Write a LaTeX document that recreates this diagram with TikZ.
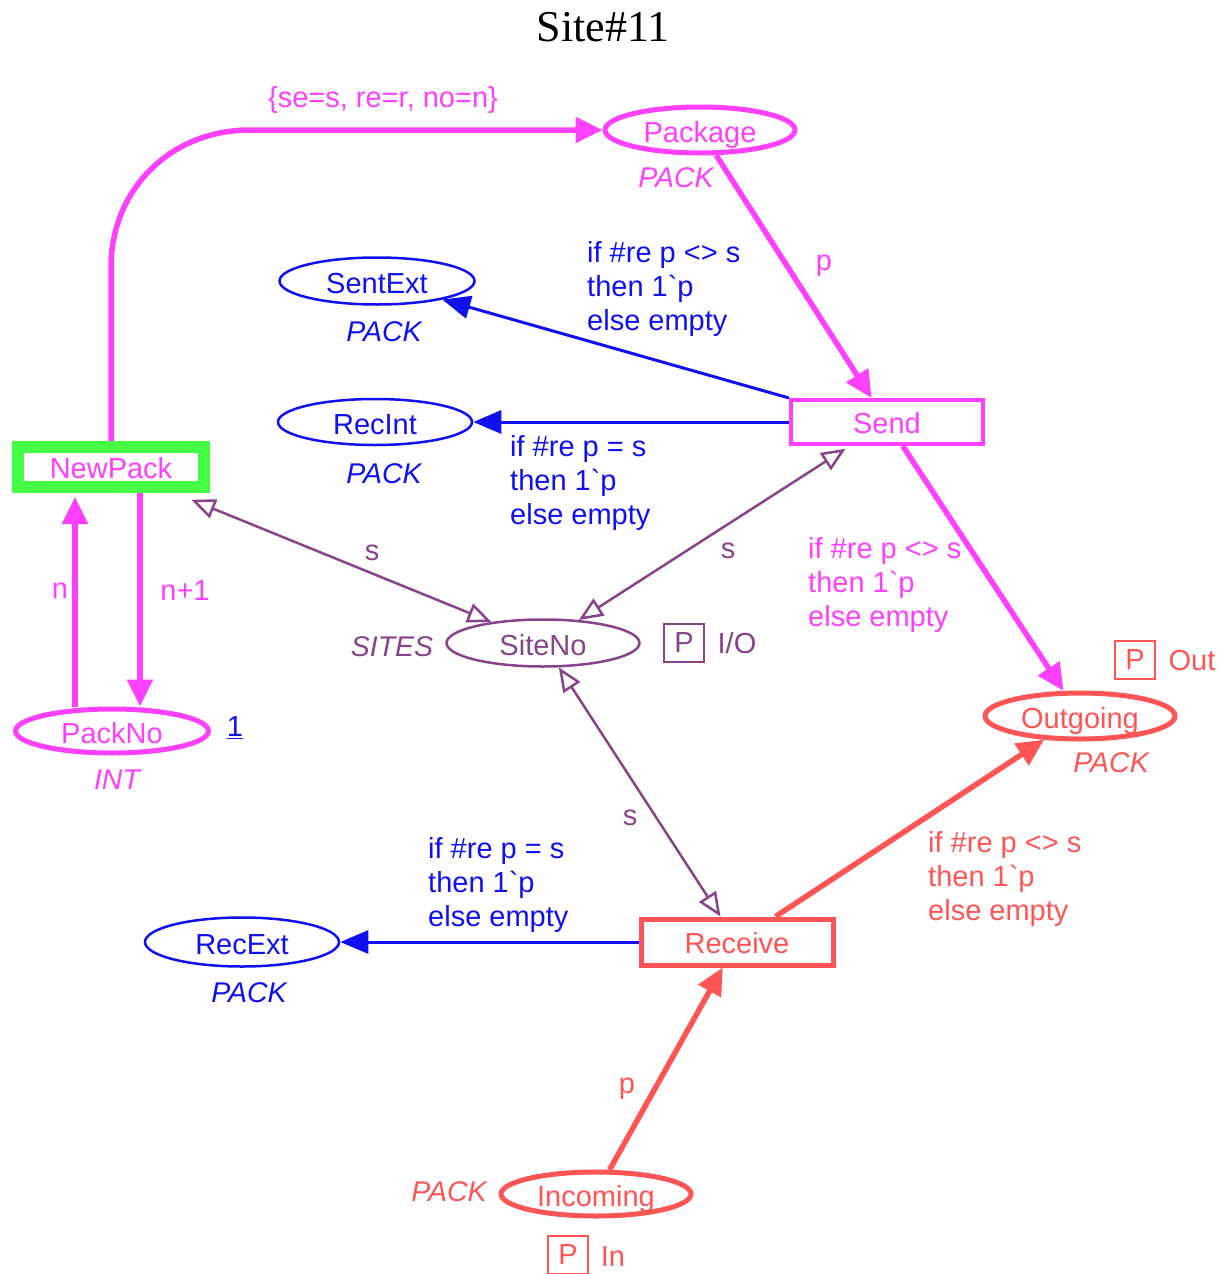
\documentclass[tikz,border=0pt]{standalone}
\usepackage{fontspec}
\setmainfont{Liberation Sans}[Ligatures=TeXOff]
\newfontfamily\titlefont{Liberation Serif}
\usetikzlibrary{shapes.geometric,arrows.meta}
\definecolor{mag}{RGB}{255,64,255}
\definecolor{blu}{RGB}{16,16,240}
\definecolor{pur}{RGB}{136,68,136}
\definecolor{sal}{RGB}{255,85,85}
\definecolor{grn}{RGB}{68,255,68}
\begin{document}
\begin{tikzpicture}[x=1pt,y=-1pt,
  every node/.style={font=\fontsize{29}{34}\selectfont, inner sep=0pt},
  place/.style={ellipse, draw, fill=white, text height=24pt, text depth=0pt},
  trans/.style={rectangle, draw, fill=white, text height=23pt, text depth=0pt},
  lbl/.style={align=left, anchor=west},
  typ/.style={font=\fontsize{28.5}{34}\selectfont\itshape},
  pbox/.style={draw, line width=2pt, minimum width=40pt, minimum height=38pt},
  magarc/.style={draw=mag, line width=5.5pt, -{Triangle[length=27pt,width=25pt]}},
  salarc/.style={draw=sal, line width=5.5pt, -{Triangle[length=27pt,width=25pt]}},
  bluarc/.style={draw=blu, line width=3pt, -{Triangle[length=28pt,width=23pt]}},
  purarc/.style={draw=pur, line width=2.5pt, {Triangle[open,length=24pt,width=20pt,fill=white]}-{Triangle[open,length=24pt,width=20pt,fill=white]}}
]
\useasboundingbox (0,0) rectangle (1226,1274);

\node[font=\fontsize{44}{50}\selectfont\titlefont] (title) at (603,27) {Site\#11};

% places
\node[place, draw=mag, line width=5pt, text=mag, minimum width=190pt, minimum height=46pt] (Package) at (700,130) {Package};
\node[place, draw=blu, line width=2.5pt, text=blu, minimum width=195pt, minimum height=47pt] (SentExt) at (377,281) {SentExt};
\node[place, draw=blu, line width=2.5pt, text=blu, minimum width=194pt, minimum height=46pt] (RecInt) at (375,422) {RecInt};
\node[place, draw=pur, line width=2.5pt, text=pur, minimum width=193pt, minimum height=47pt] (SiteNo) at (543,643) {SiteNo};
\node[place, draw=mag, line width=5pt, text=mag, minimum width=193pt, minimum height=44pt] (PackNo) at (112,731) {PackNo};
\node[place, draw=sal, line width=5pt, text=sal, minimum width=190pt, minimum height=46pt] (Outgoing) at (1080,716) {Outgoing};
\node[place, draw=blu, line width=2.5pt, text=blu, minimum width=194pt, minimum height=49pt] (RecExt) at (242,942) {RecExt};
\node[place, draw=sal, line width=5pt, text=sal, minimum width=190pt, minimum height=44pt] (Incoming) at (596,1194) {Incoming};

% transitions
\node[trans, draw=mag, line width=4pt, text=mag, minimum width=192pt, minimum height=44pt] (Send) at (887,422) {Send};
\node[trans, draw=sal, line width=5pt, text=sal, minimum width=192pt, minimum height=46pt] (Receive) at (737,942) {Receive};
\node[trans, draw=grn, line width=12pt, text=mag, minimum width=186pt, minimum height=40pt] (NewPack) at (111,467) {NewPack};

% type labels
\node[typ, text=mag] (tPackage) at (676,178) {PACK};
\node[typ, text=blu] (tSentExt) at (384,332) {PACK};
\node[typ, text=blu] (tRecInt) at (384,474) {PACK};
\node[typ, text=pur] (tSiteNo) at (392,647) {SITES};
\node[typ, text=mag] (tPackNo) at (117,780) {INT};
\node[typ, text=sal] (tOutgoing) at (1111,763) {PACK};
\node[typ, text=blu] (tRecExt) at (249,993) {PACK};
\node[typ, text=sal] (tIncoming) at (449,1192) {PACK};

% initial marking
\node[text=blu] (mPackNo) at (235,728) {\underline{1}};

% port boxes
\node[pbox, draw=pur, text=pur] (pSiteNo) at (684,643) {P};
\node[text=pur] (ioSiteNo) at (737,643) {I/O};
\node[pbox, draw=sal, text=sal] (pOut) at (1135,660) {P};
\node[text=sal] (ioOut) at (1192,661) {Out};
\node[pbox, draw=sal, text=sal] (pIn) at (568,1255) {P};
\node[text=sal] (ioIn) at (613,1257) {In};

% arcs
\draw[magarc] (NewPack.north) -- (111,267) .. controls (111,190) and (170,130) .. (250,130) -- (Package.west);
\draw[magarc] (Package) -- (Send);
\draw[bluarc] (Send.north west) -- (SentExt);
\draw[bluarc] (Send.west) -- (RecInt);
\draw[magarc] (Send) -- (Outgoing);
\draw[magarc] ([xshift=29pt]NewPack.south) -- ([xshift=28pt]PackNo.north);
\draw[magarc, shorten >=4pt] ([xshift=-37pt]PackNo.north) -- ([xshift=-36pt]NewPack.south);
\draw[purarc, shorten <=18pt] (NewPack) -- (SiteNo);
\draw[purarc, shorten >=5pt] (SiteNo) -- (Send);
\draw[purarc] (SiteNo) -- (Receive);
\draw[bluarc] (Receive) -- (RecExt);
\draw[salarc] (Receive) -- (Outgoing);
\draw[salarc] (Incoming) -- (Receive);

% arc inscriptions
\node[text=mag] (aNP) at (383,100) {\{se=s, re=r, no=n\}};
\node[text=mag] (aPS) at (824,266) {p};
\node[lbl, text=blu] (aSE) at (587,289) {if \#re p <> s\\then 1`p\\else empty};
\node[lbl, text=blu] (aRI) at (510,483) {if \#re p = s\\then 1`p\\else empty};
\node[lbl, text=mag] (aSO) at (808,585) {if \#re p <> s\\then 1`p\\else empty};
\node[text=pur] (aS1) at (372,553) {s};
\node[text=pur] (aS2) at (728,551) {s};
\node[text=pur] (aS3) at (630,818) {s};
\node[text=mag] (aN) at (60,591) {n};
\node[text=mag] (aN1) at (185,591) {n+1};
\node[lbl, text=blu] (aRE) at (428,885) {if \#re p = s\\then 1`p\\else empty};
\node[lbl, text=sal] (aRO) at (928,879) {if \#re p <> s\\then 1`p\\else empty};
\node[text=sal] (aIR) at (627,1089) {p};
\end{tikzpicture}
\end{document}
